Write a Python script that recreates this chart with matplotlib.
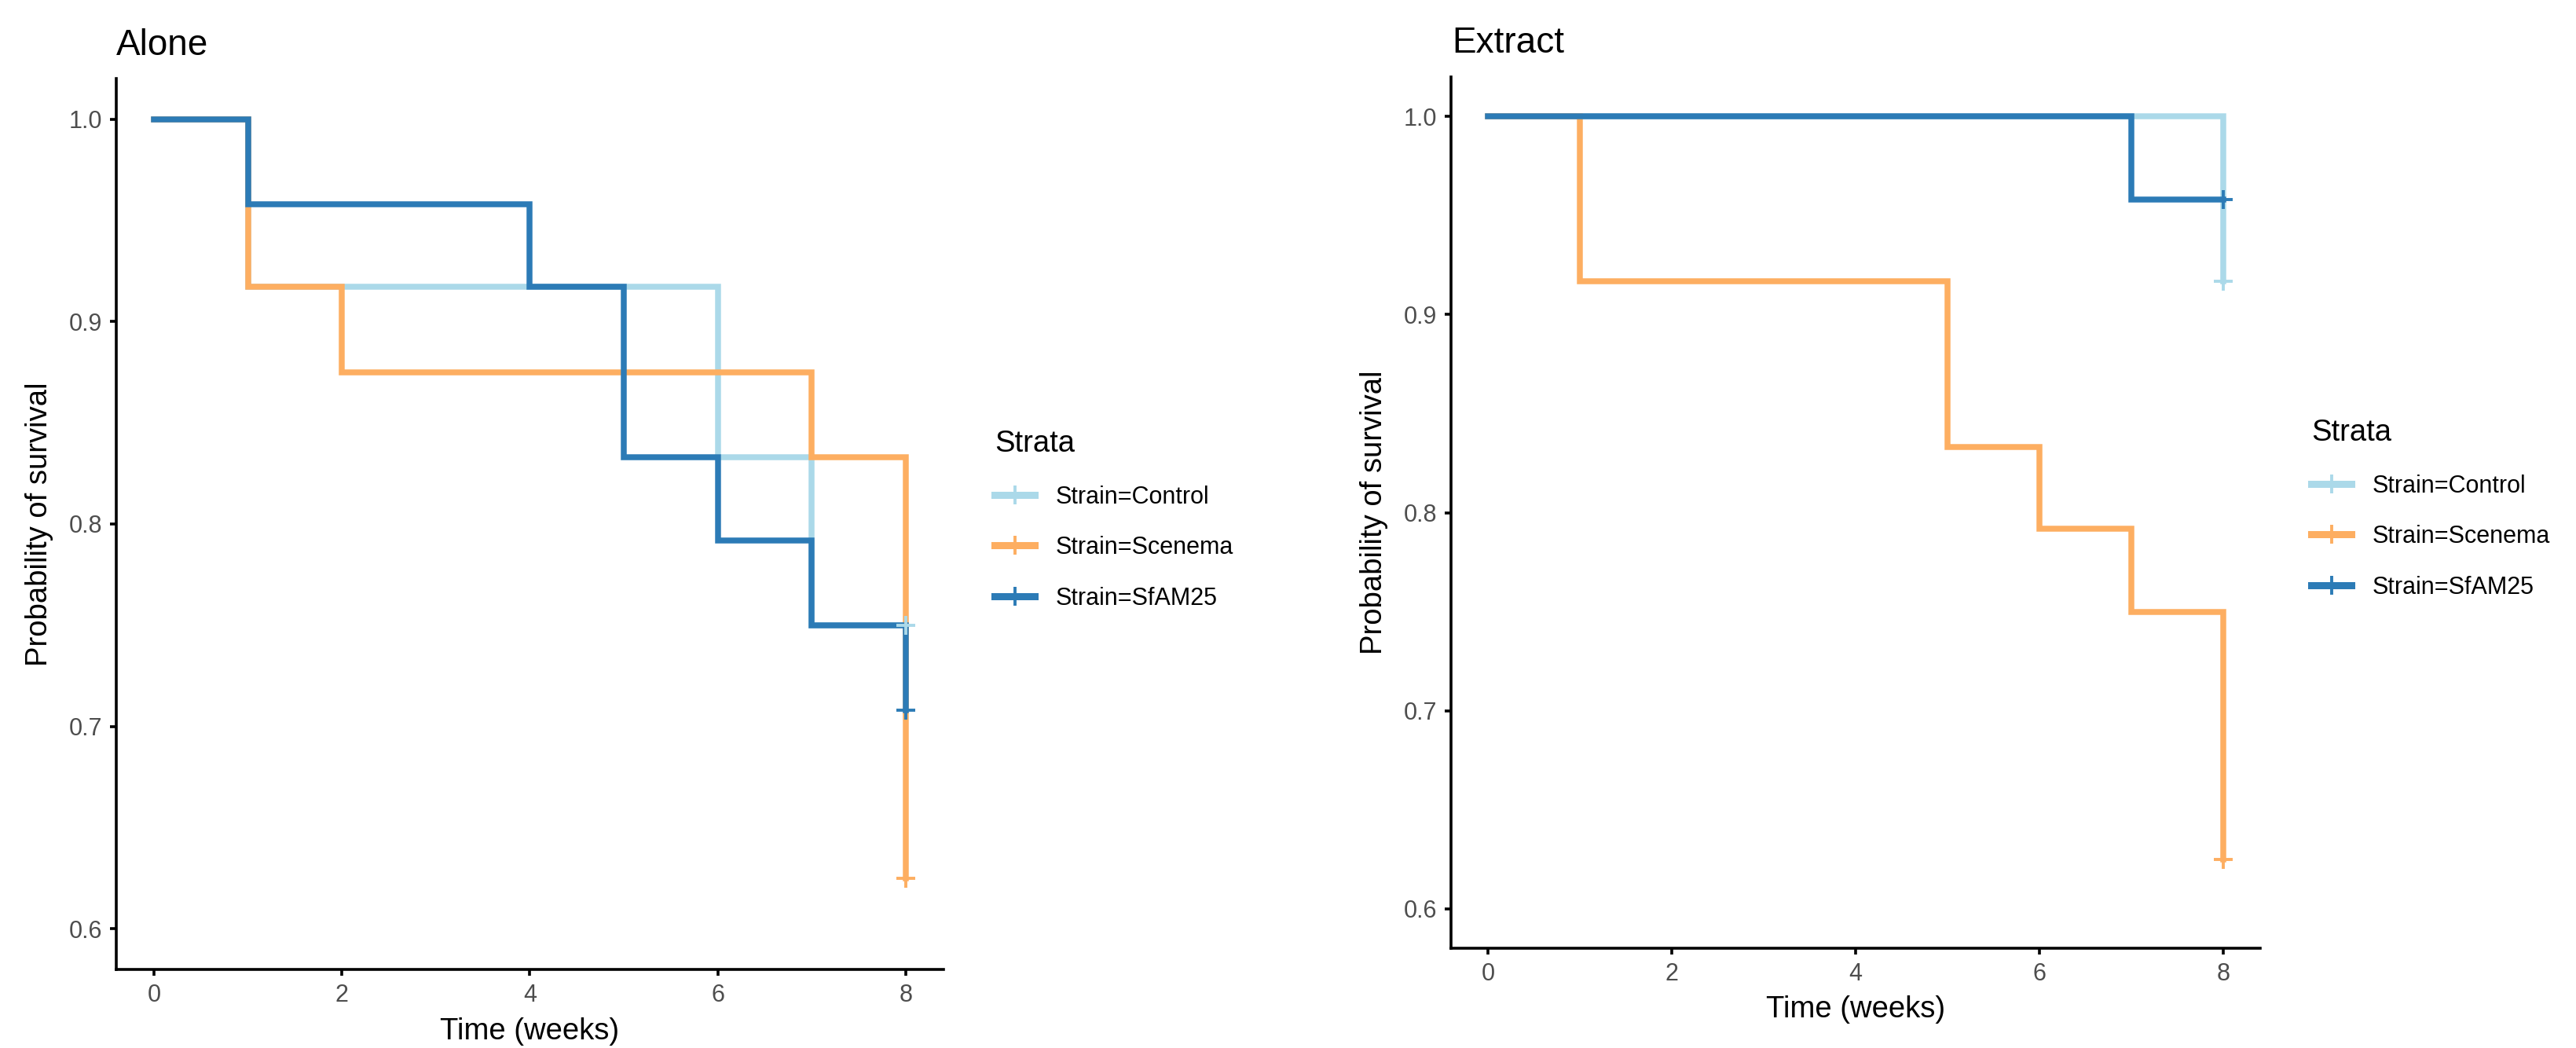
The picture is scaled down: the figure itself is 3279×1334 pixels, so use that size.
import matplotlib
matplotlib.use("Agg")
import matplotlib.pyplot as plt
from matplotlib.lines import Line2D

plt.rcParams['font.family'] = ['Liberation Sans', 'DejaVu Sans']

# Kaplan-Meier step data (time in weeks, survival)
strata = ['Strain=Control', 'Strain=Scenema', 'Strain=SfAM25']
colors = ['#ABD9E9', '#FDAE61', '#2C7BB6']

# panel "Alone"
alone_control_t = [0, 1, 6, 7, 8]
alone_control_s = [1.0, 0.917, 0.833, 0.75, 0.75]
alone_scenema_t = [0, 1, 2, 7, 8]
alone_scenema_s = [1.0, 0.917, 0.875, 0.833, 0.625]
alone_sfam_t = [0, 1, 4, 5, 6, 7, 8]
alone_sfam_s = [1.0, 0.958, 0.917, 0.833, 0.792, 0.75, 0.708]
alone_censor_t = [8, 8, 8]
alone_censor_s = [0.75, 0.625, 0.708]

# panel "Extract"
extract_control_t = [0, 8]
extract_control_s = [1.0, 0.917]
extract_scenema_t = [0, 1, 5, 6, 7, 8]
extract_scenema_s = [1.0, 0.917, 0.833, 0.792, 0.75, 0.625]
extract_sfam_t = [0, 7, 8]
extract_sfam_s = [1.0, 0.958, 0.958]
extract_censor_t = [8, 8, 8]
extract_censor_s = [0.917, 0.625, 0.958]

x_ticks = [0, 2, 4, 6, 8]
y_ticks = [0.6, 0.7, 0.8, 0.9, 1.0]
y_ticklabels = ['0.6', '0.7', '0.8', '0.9', '1.0']

fig = plt.figure(figsize=(32.8, 13.34), dpi=100)
W, H = 3280.0, 1334.0


def draw_panel(rect, curves, censor_t, censor_s, title, title_xy, xlabel_y, ylabel_x, legend_xy):
    ax = fig.add_axes(rect)
    for (t, s), c in zip(curves, colors):
        ax.step(t, s, where='post', color=c, lw=5.4, solid_joinstyle='miter')
    for t, s, c in zip(censor_t, censor_s, colors):
        ax.plot(t, s, marker='+', color=c, markersize=17, mew=2.8, ls='none')

    ax.set_xlim(-0.4, 8.4)
    ax.set_ylim(0.58, 1.02)
    ax.set_xticks(x_ticks)
    ax.set_yticks(y_ticks)
    ax.set_yticklabels(y_ticklabels)
    for side in ['top', 'right']:
        ax.spines[side].set_visible(False)
    for side in ['left', 'bottom']:
        ax.spines[side].set_linewidth(2.6)
    ax.tick_params(width=2.6, length=6, labelsize=22, colors='black', labelcolor='#4D4D4D', pad=7)

    fig.text(title_xy[0] / W, 1 - title_xy[1] / H, title, fontsize=33, va='baseline', ha='left')
    cx = rect[0] + rect[2] / 2
    cy = rect[1] + rect[3] / 2
    fig.text(cx, 1 - xlabel_y / H, 'Time (weeks)', fontsize=27.5, va='baseline', ha='center')
    fig.text(ylabel_x / W, cy, 'Probability of survival', fontsize=27.5, rotation=90,
             va='center', ha='center')

    handles = [Line2D([], [], color=c, lw=6.5, marker='+', markersize=17, mew=2.8) for c in colors]
    ax.legend(handles, strata, title='Strata', loc='upper left',
              bbox_to_anchor=(legend_xy[0] / W, 1 - legend_xy[1] / H),
              bbox_transform=fig.transFigure, frameon=False, fontsize=22,
              title_fontsize=27.5, handlelength=1.67, handletextpad=0.88,
              labelspacing=1.13, borderpad=0, borderaxespad=0, alignment='left')
    return ax


draw_panel([148 / W, 1 - 1234 / H, (1201 - 148) / W, (1234 - 100) / H],
           [(alone_control_t, alone_control_s), (alone_scenema_t, alone_scenema_s),
            (alone_sfam_t, alone_sfam_s)],
           alone_censor_t, alone_censor_s, 'Alone', (148, 70), 1323, 50, (1266, 547))

draw_panel([1847 / W, 1 - 1207 / H, (2877 - 1847) / W, (1207 - 98) / H],
           [(extract_control_t, extract_control_s), (extract_scenema_t, extract_scenema_s),
            (extract_sfam_t, extract_sfam_s)],
           extract_censor_t, extract_censor_s, 'Extract', (1848, 67), 1295, 1749, (2942, 533))

fig.savefig('out.png', dpi=100, facecolor='white')
